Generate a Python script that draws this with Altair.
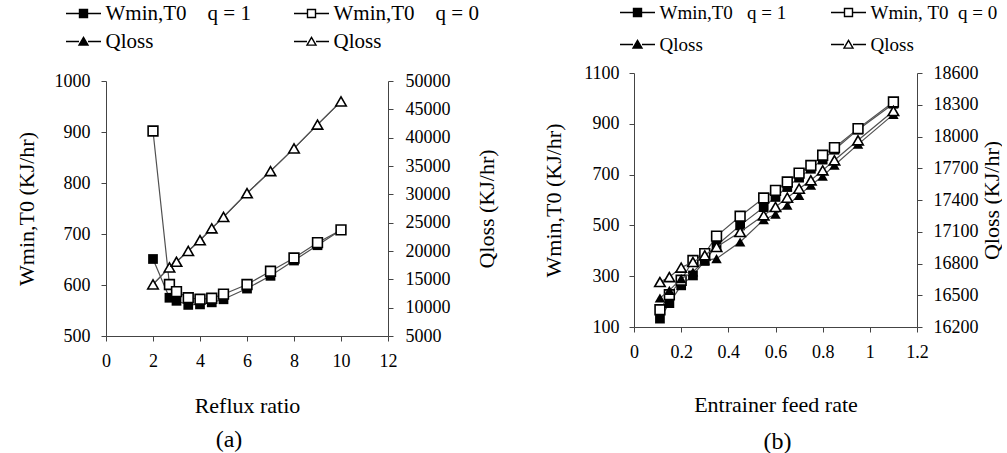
import altair as alt
import pandas as pd

FONT = "Liberation Serif, 'Times New Roman', 'DejaVu Serif', serif"

# ---------------- Panel (a): Reflux ratio ----------------
reflux = [2, 2.7, 3, 3.5, 4, 4.5, 5, 6, 7, 8, 9, 10]
wmin_q1_a = [651, 575, 569, 561, 562, 566, 572, 593, 618, 648, 678, 708]
wmin_q0_a = [902, 601, 587, 575, 572, 574, 582, 601, 627, 653, 683, 708]
qloss_q1_a = [14100, 17100, 18100, 20000, 21900, 24000, 26000, 30200, 34100, 38100, 42300, 46400]
qloss_q0_a = [14100, 17100, 18100, 20000, 21900, 24000, 26000, 30200, 34100, 38100, 42300, 46400]

# ---------------- Panel (b): Entrainer feed rate ----------------
feed = [0.11, 0.15, 0.2, 0.25, 0.3, 0.35, 0.45, 0.55, 0.6, 0.65, 0.7, 0.75, 0.8, 0.85, 0.95, 1.1]
wmin_q1_b = [133, 194, 264, 303, 360, 421, 500, 572, 612, 651, 688, 723, 759, 798, 877, 979]
wmin_q0_b = [168, 227, 284, 362, 389, 458, 536, 608, 638, 671, 706, 736, 776, 806, 881, 986]
qloss_q1_b = [16474, 16546, 16657, 16720, 16830, 16846, 17003, 17214, 17265, 17350, 17444, 17539, 17624, 17728, 17926, 18209]
qloss_q0_b = [16625, 16672, 16761, 16814, 16877, 16956, 17098, 17255, 17334, 17422, 17507, 17586, 17680, 17775, 17964, 18241]

# axis ticks
xticks_a = [0, 2, 4, 6, 8, 10, 12]
yticks_a = [500, 600, 700, 800, 900, 1000]
rticks_a = [5000, 10000, 15000, 20000, 25000, 30000, 35000, 40000, 45000, 50000]
xticks_b = [0, 0.2, 0.4, 0.6, 0.8, 1, 1.2]
yticks_b = [100, 300, 500, 700, 900, 1100]
rticks_b = [16200, 16500, 16800, 17100, 17400, 17700, 18000, 18300, 18600]

NB = "\u00a0"
labels_a = ["Wmin,T0" + NB * 4 + "q = 1", "Wmin,T0" + NB * 4 + "q = 0", "Qloss", "Qloss"]
labels_b = ["Wmin,T0" + NB * 3 + "q = 1", "Wmin," + NB + "T0" + NB * 2 + "q = 0", "Qloss", "Qloss"]
keys = ["a", "b", "c", "d"]

# legend symbols: a line with a marker in the middle (units: 10 px with size 400)
SQ = "M-1.75,0H-0.42M0.42,0H1.75M-0.4,-0.4H0.4V0.4H-0.4Z"
TR = "M-1.75,0H-0.45M0.45,0H1.75M0,-0.42L0.45,0.36H-0.45Z"
sym_paths = [SQ, SQ, TR, TR]
sym_fills = ["black", "white", "black", "white"]
sym_strokes = ["black", "black", "black", "black"]

LINE_COLOR = "#505050"
TICK_FONT = 18


def label_expr(labels):
    expr = "''"
    for k, lab in reversed(list(zip(keys, labels))):
        expr = f"datum.label == '{k}' ? '{lab}' : ({expr})"
    return expr


def panel(x, w1, w0, q1, q0, xdom, xvals, xfmt, ydom, yvals, rdom, rvals, xtitle,
          caption, labels, keyname, w, h, top_gap, leg_x, leg_y, leg_font, col_pad, row_pad,
          xtitle_pad, ltitle_pad, rtitle_pad, llab_pad, rlab_pad, cap_offset, cap_dx):
    yrange = [h + top_gap, top_gap]
    ax = dict(labelFont=FONT, labelFontSize=TICK_FONT, labelColor="black", labelFlush=False,
              titleFont=FONT, titleFontSize=22, titleFontWeight="normal", titleColor="black")
    xenc = alt.X("x:Q", scale=alt.Scale(domain=xdom, nice=False, zero=False),
                 axis=alt.Axis(values=xvals, title=xtitle, titlePadding=xtitle_pad,
                               labelPadding=11, format=xfmt, **ax))
    yl = alt.Y("y:Q", scale=alt.Scale(domain=ydom, nice=False, zero=False, range=yrange),
               axis=alt.Axis(values=yvals, title="Wmin,T0 (KJ/hr)", titlePadding=ltitle_pad,
                             labelPadding=llab_pad, format="d", **ax))
    yr = alt.Y("y:Q", scale=alt.Scale(domain=rdom, nice=False, zero=False, range=yrange),
               axis=alt.Axis(values=rvals, title="Qloss (KJ/hr)", orient="right",
                             titleAngle=270, titleBaseline="top",
                             titlePadding=rtitle_pad, labelPadding=rlab_pad, format="d", **ax))

    d_w1 = pd.DataFrame({"x": x, "y": w1})
    d_w0 = pd.DataFrame({"x": x, "y": w0})
    d_q1 = pd.DataFrame({"x": x, "y": q1})
    d_q0 = pd.DataFrame({"x": x, "y": q0})

    line = dict(color=LINE_COLOR, strokeWidth=1.2)
    sq_filled = dict(filled=True, color="black", size=95, opacity=1)
    sq_open = dict(filled=True, fill="white", stroke="black", strokeWidth=1.6, size=95, opacity=1)
    tr_filled = dict(filled=True, color="black", size=110, opacity=1)
    tr_open = dict(filled=True, fill="white", stroke="black", strokeWidth=1.6, size=110, opacity=1)

    leg = alt.Legend(
        title=None, orient="none", legendX=leg_x, legendY=leg_y, columns=2,
        direction="horizontal",
        columnPadding=col_pad, rowPadding=row_pad, padding=0,
        labelFont=FONT, labelFontSize=leg_font, labelColor="black",
        labelExpr=label_expr(labels), labelOffset=11,
        symbolSize=400, symbolStrokeWidth=1.4, symbolStrokeColor="black",
        symbolOpacity=1,
    )
    d_leg = pd.DataFrame({keyname: keys, "x": [xdom[0] - 100] * 4, "y": [ydom[0]] * 4})
    legend_layer = alt.Chart(d_leg).mark_point(
        clip=True, size=400, opacity=1, strokeWidth=1.4, filled=True
    ).encode(
        x=xenc, y=yl,
        shape=alt.Shape(f"{keyname}:N", scale=alt.Scale(domain=keys, range=sym_paths), legend=leg),
        fill=alt.Fill(f"{keyname}:N", scale=alt.Scale(domain=keys, range=sym_fills), legend=leg),
        stroke=alt.Stroke(f"{keyname}:N", scale=alt.Scale(domain=keys, range=sym_strokes), legend=leg),
    )

    left = alt.layer(
        alt.Chart(d_w1).mark_line(**line).encode(x=xenc, y=yl),
        alt.Chart(d_w0).mark_line(**line).encode(x=xenc, y=yl),
        alt.Chart(d_w1).mark_point(shape="square", **sq_filled).encode(x=xenc, y=yl),
        alt.Chart(d_w0).mark_point(shape="square", **sq_open).encode(x=xenc, y=yl),
        legend_layer,
    )
    right = alt.layer(
        alt.Chart(d_q1).mark_line(**line).encode(x=xenc, y=yr),
        alt.Chart(d_q0).mark_line(**line).encode(x=xenc, y=yr),
        alt.Chart(d_q1).mark_point(shape="triangle-up", **tr_filled).encode(x=xenc, y=yr),
        alt.Chart(d_q0).mark_point(shape="triangle-up", **tr_open).encode(x=xenc, y=yr),
    )
    return alt.layer(left, right).resolve_scale(y="independent").properties(
        width=w, height=h + top_gap,
        title=alt.TitleParams(caption, orient="bottom", font=FONT, fontSize=24,
                              fontWeight="normal", color="black", offset=cap_offset, dx=cap_dx),
    )


pa = panel(reflux, wmin_q1_a, wmin_q0_a, qloss_q1_a, qloss_q0_a,
           [0, 12], xticks_a, "d", [500, 1000], yticks_a, [5000, 50000], rticks_a,
           "Reflux ratio", "(a)", labels_a, "key_a", 282, 255, 10,
           leg_x=-33.5, leg_y=-68.5, leg_font=21, col_pad=39, row_pad=7,
           xtitle_pad=25, ltitle_pad=16, rtitle_pad=26, llab_pad=11, rlab_pad=12,
           cap_offset=12, cap_dx=-18)

pb = panel(feed, wmin_q1_b, wmin_q0_b, qloss_q1_b, qloss_q0_b,
           [0, 1.2], xticks_b, "~f", [100, 1100], yticks_b, [16200, 18600], rticks_b,
           "Entrainer feed rate", "(b)", labels_b, "key_b", 283, 254, 2,
           leg_x=-7.5, leg_y=-69.5, leg_font=19, col_pad=41, row_pad=11,
           xtitle_pad=33, ltitle_pad=18, rtitle_pad=3, llab_pad=10, rlab_pad=11,
           cap_offset=15, cap_dx=2)

chart = alt.concat(pa, pb, columns=2, spacing=45).resolve_scale(
    shape="independent", fill="independent", stroke="independent"
).properties(
    padding={"left": 15, "top": 1, "right": 0, "bottom": 0}, background="white"
).configure_view(stroke=None).configure_axis(
    grid=False, domainColor="#444444", tickColor="#444444", tickSize=5,
    labelFont=FONT, labelFontSize=TICK_FONT, labelColor="black",
    titleFont=FONT, titleFontSize=22, titleFontWeight="normal", titleColor="black",
)

chart.save("out.html", embed_options={"renderer": "svg", "actions": False})
